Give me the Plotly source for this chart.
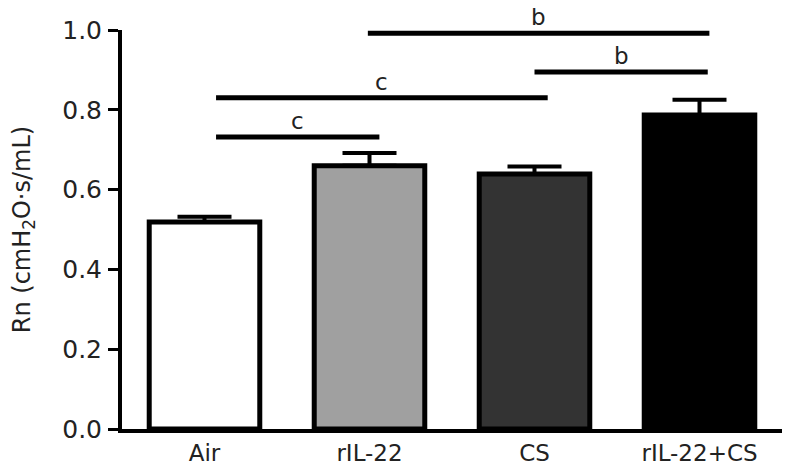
import plotly.graph_objects as go

categories = ["Air", "rIL-22", "CS", "rIL-22+CS"]
values = [0.519, 0.660, 0.639, 0.787]
errors = [0.013, 0.032, 0.019, 0.038]
bar_colors = ["#ffffff", "#a0a0a0", "#333333", "#000000"]

y_ticks = [0.0, 0.2, 0.4, 0.6, 0.8, 1.0]

# significance brackets: start category index, end category index, height, label
sig_start = [0.07, 0.07, 2.0, 0.99]
sig_end = [1.06, 2.08, 3.05, 3.06]
sig_y = [0.732, 0.830, 0.895, 0.992]
sig_label = ["c", "c", "b", "b"]

FONT = "DejaVu Sans, Arial, sans-serif"
TXT = "#222222"

fig = go.Figure()
fig.add_trace(go.Bar(
    x=list(range(len(categories))),
    y=values,
    width=0.67,
    marker=dict(color=bar_colors, line=dict(color="black", width=5)),
    error_y=dict(type="data", array=errors, arrayminus=[0] * len(errors),
                 symmetric=False, color="black", thickness=4, width=27),
    showlegend=False,
))

for s, e, yv, lab in zip(sig_start, sig_end, sig_y, sig_label):
    fig.add_shape(type="line", x0=s, x1=e, y0=yv, y1=yv, xref="x", yref="y",
                  line=dict(color="black", width=5))
    fig.add_annotation(x=(s + e) / 2, y=yv, xref="x", yref="y", text=lab,
                       showarrow=False, yanchor="bottom", yshift=1,
                       font=dict(family=FONT, size=23, color=TXT))

# page body has an 8px default margin, so the figure is drawn 8px smaller
fig.update_layout(
    template="none",
    width=783, height=467,
    margin=dict(l=114, r=9, t=22, b=46),
    plot_bgcolor="white", paper_bgcolor="white",
    font=dict(family=FONT, size=22, color=TXT),
)
fig.update_xaxes(
    range=[-0.5, 3.5], automargin=False,
    tickmode="array", tickvals=list(range(len(categories))), ticktext=categories,
    showline=True, linecolor="black", linewidth=4, ticks="",
    showgrid=False, zeroline=False, ticklabelstandoff=0,
    tickfont=dict(family=FONT, size=23, color=TXT),
)
fig.update_yaxes(
    range=[0, 1.0], automargin=False,
    tickmode="array", tickvals=y_ticks, ticktext=[f"{t:.1f}" for t in y_ticks],
    showline=True, linecolor="black", linewidth=4,
    ticks="outside", ticklen=10, tickwidth=3, tickcolor="black",
    showgrid=False, zeroline=False, ticklabelstandoff=1,
    tickfont=dict(family=FONT, size=25, color=TXT),
    title=dict(text="Rn (cmH<sub>2</sub>O·s/mL)", standoff=28,
               font=dict(family=FONT, size=24, color=TXT)),
)

fig.write_html("out.html")
